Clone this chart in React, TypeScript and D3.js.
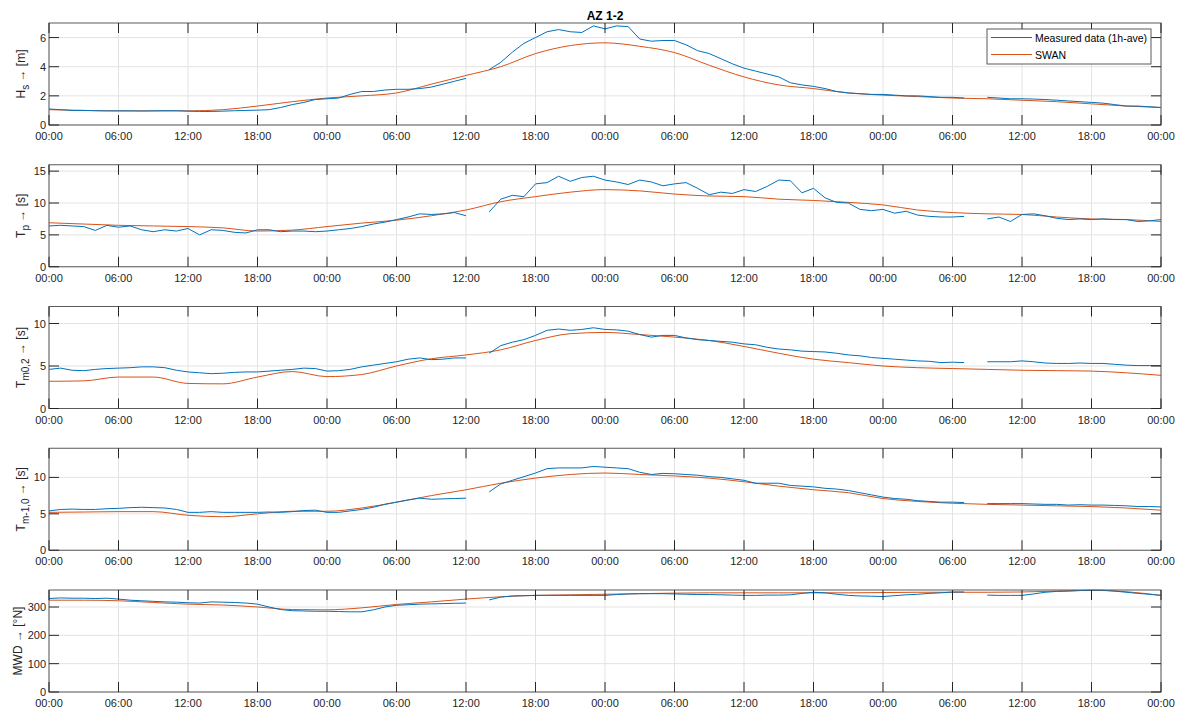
import * as d3 from "d3"

// hourly measured values (1h-ave), null = no data
const hsMeasured = [
  1.1, 1.05, 1.0, 1.0, 0.98, 0.97, 0.97, 0.97, 0.96, 0.97, 0.98, 0.98, 0.95, 0.93, 0.93, 0.95, 0.98, 1.0, 1.02, 1.05,
  1.2, 1.4, 1.55, 1.75, 1.8, 1.85, 2.1, 2.3, 2.3, 2.4, 2.45, 2.45, 2.5, 2.6, 2.8, 3.0, 3.2, null, 3.8, 4.3,
  5.0, 5.6, 6.0, 6.4, 6.55, 6.4, 6.35, 6.8, 6.6, 6.8, 6.75, 5.9, 5.75, 5.8, 5.8, 5.5, 5.1, 4.9, 4.55, 4.2,
  3.9, 3.7, 3.5, 3.3, 2.9, 2.75, 2.65, 2.5, 2.3, 2.2, 2.15, 2.1, 2.1, 2.05, 2.0, 2.0, 1.95, 1.9, 1.9, 1.85,
  null, 1.9, 1.85, 1.8, 1.8, 1.78, 1.75, 1.7, 1.65, 1.6, 1.55, 1.5, 1.4, 1.3, 1.3, 1.25, 1.2,
]
const tpMeasured = [
  6.4, 6.5, 6.4, 6.3, 5.7, 6.5, 6.2, 6.4, 5.8, 5.5, 5.8, 5.6, 6.0, 5.0, 5.8, 5.7, 5.4, 5.3, 5.8, 5.8,
  5.5, 5.6, 5.6, 5.5, 5.6, 5.8, 6.0, 6.3, 6.7, 7.0, 7.4, 7.8, 8.3, 8.2, 8.3, 8.5, 8.0, null, 8.6, 10.6,
  11.2, 11.0, 13.0, 13.2, 14.2, 13.4, 14.0, 14.2, 13.6, 13.3, 12.9, 13.6, 13.3, 12.7, 13.0, 13.2, 12.3, 11.3, 11.7, 11.5,
  12.1, 11.8, 12.6, 13.6, 13.5, 11.6, 12.3, 10.8, 10.1, 10.0, 9.0, 8.8, 9.0, 8.4, 8.7, 8.1, 7.9, 7.8, 7.8, 7.9,
  null, 7.5, 7.8, 7.1, 8.2, 8.3, 8.0, 7.6, 7.4, 7.5, 7.4, 7.5, 7.4, 7.4, 7.1, 7.2, 7.4,
]
const tm02Measured = [
  4.6, 4.75, 4.5, 4.45, 4.6, 4.7, 4.75, 4.8, 4.9, 4.9, 4.8, 4.5, 4.3, 4.2, 4.1, 4.15, 4.25, 4.3, 4.3, 4.4,
  4.5, 4.6, 4.75, 4.7, 4.4, 4.45, 4.6, 4.9, 5.1, 5.3, 5.5, 5.8, 5.95, 5.75, 5.8, 5.95, 5.95, null, 6.5, 7.4,
  7.8, 8.1, 8.6, 9.2, 9.35, 9.2, 9.3, 9.5, 9.3, 9.25, 9.1, 8.7, 8.4, 8.6, 8.6, 8.3, 8.1, 8.0, 7.9, 7.8,
  7.6, 7.5, 7.2, 7.0, 6.9, 6.75, 6.7, 6.65, 6.5, 6.3, 6.2, 6.0, 5.9, 5.8, 5.7, 5.6, 5.55, 5.4, 5.45, 5.4,
  null, 5.5, 5.5, 5.5, 5.6, 5.5, 5.35, 5.3, 5.3, 5.35, 5.3, 5.3, 5.2, 5.1, 5.05, 5.05, 5.05,
]
const tm10Measured = [
  5.4, 5.6, 5.65, 5.6, 5.6, 5.7, 5.75, 5.85, 5.9, 5.85, 5.8, 5.6, 5.2, 5.2, 5.3, 5.2, 5.2, 5.2, 5.2, 5.25,
  5.2, 5.3, 5.45, 5.5, 5.2, 5.2, 5.4, 5.6, 5.9, 6.3, 6.6, 6.9, 7.15, 7.0, 7.05, 7.1, 7.15, null, 8.0, 9.1,
  9.6, 10.1, 10.6, 11.2, 11.3, 11.3, 11.3, 11.5, 11.4, 11.3, 11.2, 10.7, 10.4, 10.55, 10.5, 10.4, 10.3, 10.1, 10.0, 9.8,
  9.6, 9.2, 9.2, 9.2, 8.9, 8.8, 8.7, 8.5, 8.4, 8.2, 7.9, 7.6, 7.3, 7.1, 7.0, 6.8, 6.7, 6.6, 6.6, 6.55,
  null, 6.4, 6.4, 6.4, 6.4, 6.35, 6.3, 6.3, 6.2, 6.25, 6.2, 6.2, 6.15, 6.1, 6.0, 6.0, 5.95,
]
const mwdMeasured = [
  330, 332, 331, 331, 330, 331, 328, 324, 322, 320, 318, 317, 315, 314, 318, 317, 316, 314, 310, 300,
  291, 287, 286, 285, 285, 284, 283, 283, 290, 300, 306, 308, 310, 311, 312, 313, 314, null, 325, 335,
  339, 340, 341, 341, 341, 341, 341, 341, 341, 344, 346, 347, 347, 347, 346, 345, 344, 344, 343, 342,
  341, 341, 342, 342, 343, 348, 352, 350, 345, 341, 339, 338, 337, 340, 343, 345, 348, 350, 353, 353,
  null, 342, 341, 341, 341, 346, 352, 355, 356, 358, 359, 359, 356, 352, 348, 345, 341,
]

// SWAN model output, every 3 hours
const swanHours = [
  0, 3, 6, 9, 12, 15, 18, 21, 24, 27, 30, 33, 36, 39, 42, 45, 48, 51, 54, 57, 60, 63, 66, 69, 72, 75, 78, 81, 84, 87,
  90, 93, 96,
]
const hsSwan = [
  1.05, 1.0, 0.97, 0.97, 0.97, 1.05, 1.3, 1.6, 1.85, 2.0, 2.2, 2.8, 3.4, 4.0, 4.9, 5.45, 5.64, 5.4, 4.97, 4.1, 3.3,
  2.75, 2.5, 2.2, 2.05, 1.95, 1.85, 1.8, 1.7, 1.6, 1.45, 1.3, 1.2,
]
const tpSwan = [
  6.9, 6.7, 6.5, 6.4, 6.3, 6.1, 5.6, 5.75, 6.3, 6.85, 7.3, 8.0, 8.9, 10.2, 11.0, 11.7, 12.1, 11.9, 11.4, 11.1, 11.0,
  10.6, 10.4, 10.1, 9.7, 8.9, 8.5, 8.3, 8.2, 7.8, 7.5, 7.4, 7.1,
]
const tm02Swan = [
  3.2, 3.25, 3.7, 3.7, 2.95, 2.9, 3.7, 4.35, 3.75, 4.0, 5.0, 5.85, 6.3, 6.9, 8.0, 8.8, 8.95, 8.7, 8.4, 8.0, 7.3,
  6.5, 5.8, 5.4, 5.0, 4.8, 4.7, 4.6, 4.5, 4.45, 4.4, 4.2, 3.9,
]
const tm10Swan = [
  5.2, 5.25, 5.3, 5.3, 4.8, 4.6, 5.0, 5.35, 5.35, 5.8, 6.6, 7.5, 8.3, 9.2, 9.9, 10.4, 10.6, 10.4, 10.2, 9.9, 9.4,
  8.8, 8.3, 7.9, 7.1, 6.7, 6.45, 6.3, 6.2, 6.1, 6.0, 5.8, 5.5,
]
const mwdSwan = [
  324, 324, 322, 316, 310, 307, 300, 291, 290, 297, 309, 318, 328, 336, 341, 343, 345, 347, 349, 350, 350, 350,
  350, 350, 351, 352, 352, 352, 353, 356, 359, 354, 341,
]

const yMax = [7, 16, 12, 14, 360]
const yTicks = [
  [0, 2, 4, 6],
  [0, 5, 10, 15],
  [0, 5, 10],
  [0, 5, 10],
  [0, 100, 200, 300],
]
const yLabels = [
  { main: "H", sub: "s", unit: "[m]" },
  { main: "T", sub: "p", unit: "[s]" },
  { main: "T", sub: "m0,2", unit: "[s]" },
  { main: "T", sub: "m-1,0", unit: "[s]" },
  { main: "MWD", sub: "", unit: "[°N]" },
]
const legendLabels = ["Measured data (1h-ave)", "SWAN"]

const BLUE = "#0072BD"
const ORANGE = "#D95319"
const FONT = "'Liberation Sans', Arial, Helvetica, sans-serif"

const start = new Date(2020, 0, 1, 0, 0, 0)
const toDate = (h: number) => new Date(start.getTime() + h * 3600 * 1000)

const panels = [
  { measured: hsMeasured, swan: hsSwan },
  { measured: tpMeasured, swan: tpSwan },
  { measured: tm02Measured, swan: tm02Swan },
  { measured: tm10Measured, swan: tm10Swan },
  { measured: mwdMeasured, swan: mwdSwan },
]

const left = 49
const right = 1161
const firstTop = 23
const step = 141.75
const panelH = 102

const x = d3.scaleTime().domain([toDate(0), toDate(96)]).range([left, right])
const xTicks = d3.range(0, 97, 6).map(toDate)
const fmt = d3.timeFormat("%H:%M")

function Panel({ i }: { i: number }) {
  const top = firstTop + i * step
  const bottom = top + panelH
  const y = d3.scaleLinear().domain([0, yMax[i]]).range([bottom, top])
  const p = panels[i]

  const measuredLine = d3
    .line<number | null>()
    .defined((d) => d != null)
    .x((_, k) => x(toDate(k)))
    .y((d) => y(d as number))
  const swanLine = d3
    .line<number>()
    .curve(d3.curveMonotoneX)
    .x((_, k) => x(toDate(swanHours[k])))
    .y((d) => y(d))

  const lab = yLabels[i]
  const midY = (top + bottom) / 2

  return (
    <g>
      <rect x={left} y={top} width={right - left} height={panelH} fill="#fff" />
      {xTicks.map((t, k) => (
        <line key={"gx" + k} x1={x(t)} x2={x(t)} y1={top} y2={bottom} stroke="#e3e3e3" strokeWidth={1} />
      ))}
      {yTicks[i].map((v) => (
        <line key={"gy" + v} x1={left} x2={right} y1={y(v)} y2={y(v)} stroke="#e3e3e3" strokeWidth={1} />
      ))}
      <path d={swanLine(panels[i].swan) || ""} fill="none" stroke={ORANGE} strokeWidth={1} />
      <path d={measuredLine(p.measured) || ""} fill="none" stroke={BLUE} strokeWidth={1} />
      <rect x={left} y={top} width={right - left} height={panelH} fill="none" stroke="#5a5a5a" strokeWidth={1} />
      {xTicks.map((t, k) => (
        <g key={"tx" + k}>
          <line x1={x(t)} x2={x(t)} y1={bottom} y2={bottom - 10} stroke="#262626" />
          <line x1={x(t)} x2={x(t)} y1={top} y2={top + 10} stroke="#262626" />
          <text x={x(t)} y={bottom + 15} textAnchor="middle" fontSize={11} fill="#262626" fontFamily={FONT}>
            {fmt(t)}
          </text>
        </g>
      ))}
      {yTicks[i].map((v) => (
        <g key={"ty" + v}>
          <line x1={left} x2={left + 10} y1={y(v)} y2={y(v)} stroke="#262626" />
          <line x1={right} x2={right - 10} y1={y(v)} y2={y(v)} stroke="#262626" />
          <text x={left - 3} y={y(v) + 4} textAnchor="end" fontSize={11} fill="#262626" fontFamily={FONT}>
            {v}
          </text>
        </g>
      ))}
      <text
        transform={`translate(${i === 4 ? 22 : 25},${midY}) rotate(-90)`}
        textAnchor="middle"
        fontSize={12}
        fill="#262626"
        fontFamily={FONT}
      >
        {lab.main}
        {lab.sub && (
          <tspan fontSize={10} dy={4}>
            {lab.sub}
          </tspan>
        )}
        <tspan dy={lab.sub ? -4 : 0}>{" \u2192 " + lab.unit}</tspan>
      </text>
    </g>
  )
}

export default function App() {
  return (
    <svg
      width={1187}
      height={708}
      style={{ position: "absolute", left: 0, top: 0, background: "#fff" }}
    >
      <rect width={1187} height={708} fill="#fff" />
      {panels.map((_, i) => (
        <Panel key={i} i={i} />
      ))}
      <text x={(left + right) / 2} y={20} textAnchor="middle" fontSize={12} fontWeight="bold" fill="#000" fontFamily={FONT}>
        AZ 1-2
      </text>
      <g>
        <rect x={987} y={29} width={164} height={35} fill="#fff" stroke="#5a5a5a" strokeWidth={1} />
        {legendLabels.map((l, k) => (
          <g key={l}>
            <line x1={991} x2={1032} y1={37.5 + k * 17} y2={37.5 + k * 17} stroke={k === 0 ? BLUE : ORANGE} strokeWidth={1} />
            <text x={1035} y={41.5 + k * 17} fontSize={10.5} fill="#000" fontFamily={FONT}>
              {l}
            </text>
          </g>
        ))}
      </g>
    </svg>
  )
}
